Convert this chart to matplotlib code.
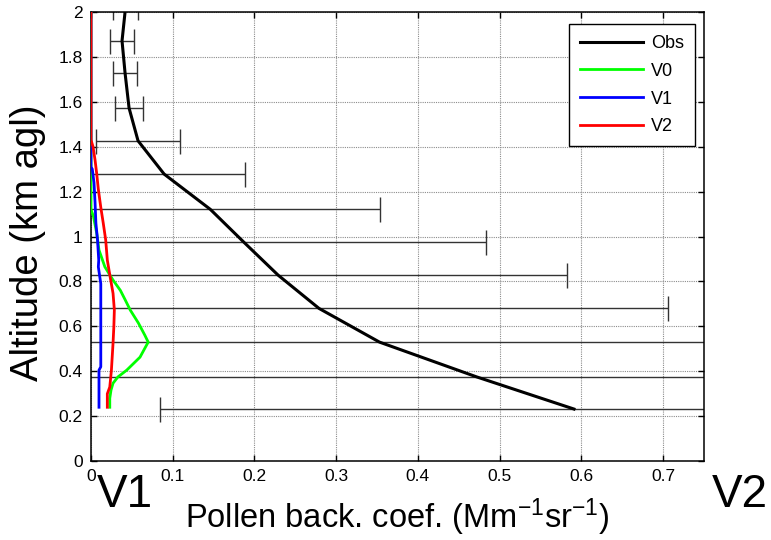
import matplotlib
matplotlib.use("Agg")
import matplotlib.pyplot as plt

plt.rcParams['font.family'] = ['Liberation Sans', 'DejaVu Sans']
plt.rcParams['mathtext.fontset'] = 'custom'
plt.rcParams['mathtext.rm'] = 'Liberation Sans'
plt.rcParams['mathtext.it'] = 'Liberation Sans'

# observed profile with error bars
obs_alt = [0.232, 0.375, 0.53, 0.68, 0.828, 0.975, 1.121, 1.278, 1.426, 1.572, 1.728, 1.871, 2.02]
obs_val = [0.591, 0.472, 0.353, 0.279, 0.229, 0.187, 0.146, 0.0895, 0.0576, 0.0466, 0.0417, 0.038, 0.0423]
obs_err = [0.506, 0.62, 0.56, 0.427, 0.354, 0.296, 0.208, 0.0995, 0.051, 0.0175, 0.0145, 0.015, 0.015]

# model runs
v0_alt = [0.24, 0.28, 0.316, 0.347, 0.375, 0.405, 0.463, 0.53, 0.56, 0.615, 0.673, 0.717, 0.76, 0.806,
          0.865, 0.94, 1.015, 1.09, 1.12, 2.0]
v0_val = [0.023, 0.023, 0.0245, 0.027, 0.033, 0.0437, 0.060, 0.070, 0.066, 0.058, 0.048, 0.042, 0.036, 0.027,
          0.017, 0.0098, 0.007, 0.003, 0.0, 0.0]

v1_alt = [0.24, 0.405, 0.42, 0.79, 0.865, 0.895, 0.985, 1.06, 1.15, 1.24, 1.30, 1.31, 2.0]
v1_val = [0.0098, 0.0098, 0.012, 0.012, 0.009, 0.0095, 0.008, 0.006, 0.005, 0.0037, 0.0016, 0.0, 0.0]

v2_alt = [0.24, 0.30, 0.33, 0.405, 0.525, 0.60, 0.673, 0.747, 0.83, 0.895, 0.985, 1.06, 1.13, 1.21,
          1.28, 1.34, 1.40, 1.43, 2.0]
v2_val = [0.020, 0.020, 0.023, 0.025, 0.027, 0.028, 0.0286, 0.027, 0.023, 0.020, 0.018, 0.015, 0.012, 0.009,
          0.007, 0.005, 0.0025, 0.0, 0.0]

xticks = [0, 0.1, 0.2, 0.3, 0.4, 0.5, 0.6, 0.7]
xtick_labels = ['0', '0.1', '0.2', '0.3', '0.4', '0.5', '0.6', '0.7']
yticks = [0, 0.2, 0.4, 0.6, 0.8, 1.0, 1.2, 1.4, 1.6, 1.8, 2.0]
ytick_labels = ['0', '0.2', '0.4', '0.6', '0.8', '1', '1.2', '1.4', '1.6', '1.8', '2']

fig = plt.figure(figsize=(7.71, 5.40), dpi=100)
ax = fig.add_axes([0.118, 0.146, 0.795, 0.832])

ax.grid(True, linestyle=(0, (1, 1)), color='0.55', linewidth=0.8)
ax.set_axisbelow(True)

ax.errorbar(obs_val, obs_alt, xerr=obs_err, fmt='none', ecolor='#333333',
            elinewidth=1, capsize=9, capthick=1, zorder=2)
l_obs, = ax.plot(obs_val, obs_alt, color='k', lw=2.2, label='Obs', zorder=3)
l_v0, = ax.plot(v0_val, v0_alt, color='#00ff00', lw=2, label='V0', zorder=3)
l_v1, = ax.plot(v1_val, v1_alt, color='#0000ff', lw=2, label='V1', zorder=3)
l_v2, = ax.plot(v2_val, v2_alt, color='#ff0000', lw=2, label='V2', zorder=3)

ax.set_xlim(0, 0.75)
ax.set_ylim(0, 2)
ax.set_xticks(xticks)
ax.set_xticklabels(xtick_labels)
ax.set_yticks(yticks)
ax.set_yticklabels(ytick_labels)
ax.tick_params(direction='in', top=True, right=True, length=4, width=1,
               labelsize=12.5, pad=6)
for s in ax.spines.values():
    s.set_linewidth(1.1)

ax.set_xlabel('Pollen back. coef. (Mm$^{\\mathrm{-1}}$sr$^{\\mathrm{-1}}$)', fontsize=23.5, labelpad=9)
ax.set_ylabel('Altitude (km agl)', fontsize=27.5)
ax.yaxis.set_label_coords(-0.073, 0.486)

leg = ax.legend(handles=[l_obs, l_v0, l_v1, l_v2], loc='upper right',
                bbox_to_anchor=(0.985, 0.973), borderaxespad=0, fontsize=13,
                fancybox=False, edgecolor='k', framealpha=1,
                handlelength=3.5, handletextpad=0.45, labelspacing=0.6,
                borderpad=0.6)
leg.get_frame().set_linewidth(1)

fig.text(0.126, 0.061, 'V1', fontsize=33, ha='left', va='baseline')
fig.text(0.923, 0.061, 'V2', fontsize=33, ha='left', va='baseline')

fig.savefig('out.png', dpi=100)
